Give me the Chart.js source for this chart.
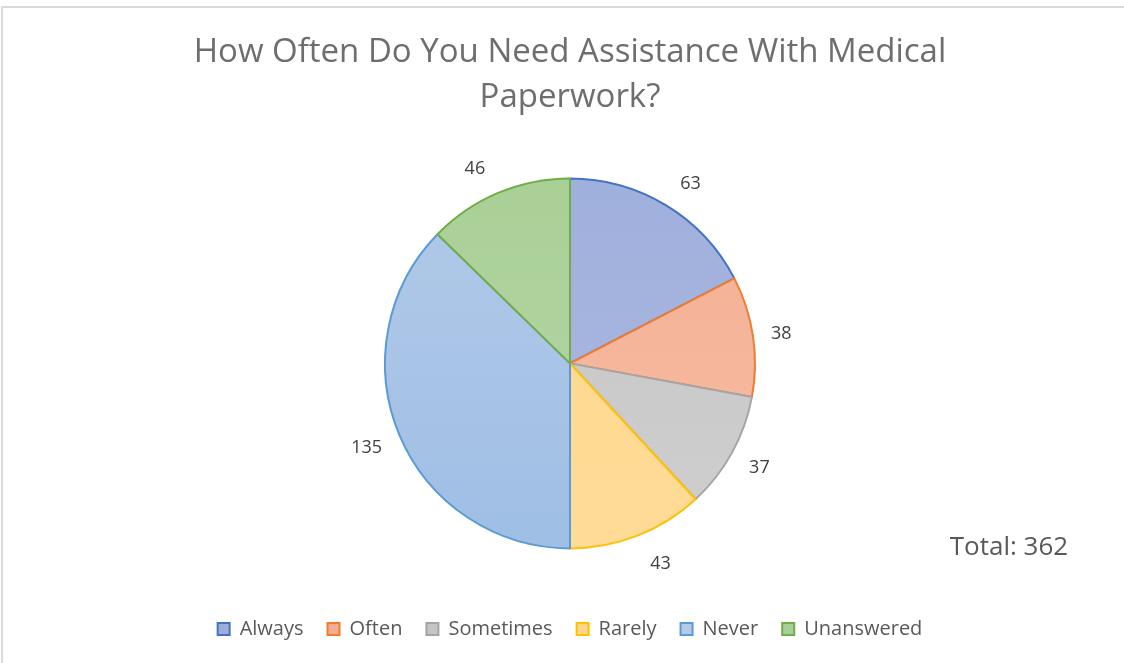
<!DOCTYPE html>
<html>
<head>
<meta charset="utf-8">
<script src="https://cdn.jsdelivr.net/npm/chart.js@4"></script>
<style>
  html, body { margin: 0; padding: 0; background: #fff; overflow: hidden; }
  #frame { position: absolute; left: 1px; top: 6px; width: 1140px; height: 680px; border: 2px solid #d9d9d9; }
  #wrap { position: absolute; left: 0; top: 0; width: 1124px; height: 663px; }
</style>
</head>
<body>
<div id="frame"></div>
<div id="wrap"><canvas id="grafico"></canvas></div>
<script>
const categorias = ['Always', 'Often', 'Sometimes', 'Rarely', 'Never', 'Unanswered'];
const respostas = [63, 38, 37, 43, 135, 46];
const totalTexto = 'Total: 362';

const bordas = ['#4472c4', '#ed7d31', '#a5a5a5', '#ffc000', '#5b9bd5', '#70ad47'];
const topo = ['#9eaedb', '#f4ad90', '#c4c4c4', '#fed68a', '#b4cbe8', '#a8cf95'];
const base = ['#aebce3', '#f6bfa7', '#d0d0d0', '#ffdc98', '#9dbde5', '#b6d7a8'];
const fonte = "'Open Sans', sans-serif";

function preenchimento(context) {
    const chart = context.chart;
    const area = chart.chartArea;
    if (!area) return topo[context.dataIndex];
    const g = chart.ctx.createLinearGradient(0, area.top, 0, area.bottom);
    g.addColorStop(0, topo[context.dataIndex]);
    g.addColorStop(1, base[context.dataIndex]);
    return g;
}

// rótulos de valor fora das fatias + texto do total
const rotulosFora = {
    id: 'rotulosFora',
    afterDatasetsDraw(chart) {
        const ctx = chart.ctx;
        const meta = chart.getDatasetMeta(0);
        ctx.save();
        ctx.font = "18px " + fonte;
        ctx.fillStyle = '#404040';
        ctx.textAlign = 'center';
        ctx.textBaseline = 'middle';
        meta.data.forEach((arc, i) => {
            const meio = (arc.startAngle + arc.endAngle) / 2;
            const c = Math.cos(meio), s = Math.sin(meio);
            const texto = String(respostas[i]);
            const w = ctx.measureText(texto).width;
            const x = arc.x + c * (arc.outerRadius + 8.5) + Math.sign(c) * (9.6 + w / 2);
            const y = arc.y + s * (arc.outerRadius + 28) + 2;
            ctx.fillText(texto, x, y);
        });
        ctx.font = "26px " + fonte;
        ctx.fillStyle = '#595959';
        ctx.fillText(totalTexto, 1009, 548);
        ctx.restore();
    }
};

new Chart(document.getElementById('grafico').getContext('2d'), {
    type: 'pie',
    data: {
        labels: categorias,
        datasets: [{
            data: respostas,
            backgroundColor: preenchimento,
            borderColor: bordas,
            borderWidth: 2,
            radius: 185
        }]
    },
    options: {
        responsive: true,
        maintainAspectRatio: false,
        animation: false,
        layout: { padding: { left: 20, right: 4, top: 30, bottom: 14 } },
        plugins: {
            title: {
                display: true,
                text: ['How Often Do You Need Assistance With Medical', 'Paperwork?'],
                color: '#6e6e6e',
                font: { family: fonte, size: 33, weight: 'normal', lineHeight: 1.36 },
                padding: { top: 0, bottom: 12 }
            },
            legend: {
                position: 'bottom',
                labels: {
                    color: '#595959',
                    font: { family: fonte, size: 20 },
                    boxWidth: 12,
                    boxHeight: 12,
                    padding: 24,
                    generateLabels(chart) {
                        return categorias.map((c, i) => ({
                            text: c,
                            fillStyle: topo[i],
                            strokeStyle: bordas[i],
                            lineWidth: 2,
                            fontColor: '#595959',
                            index: i
                        }));
                    }
                }
            },
            tooltip: { enabled: false }
        }
    },
    plugins: [rotulosFora]
});
</script>
</body>
</html>
